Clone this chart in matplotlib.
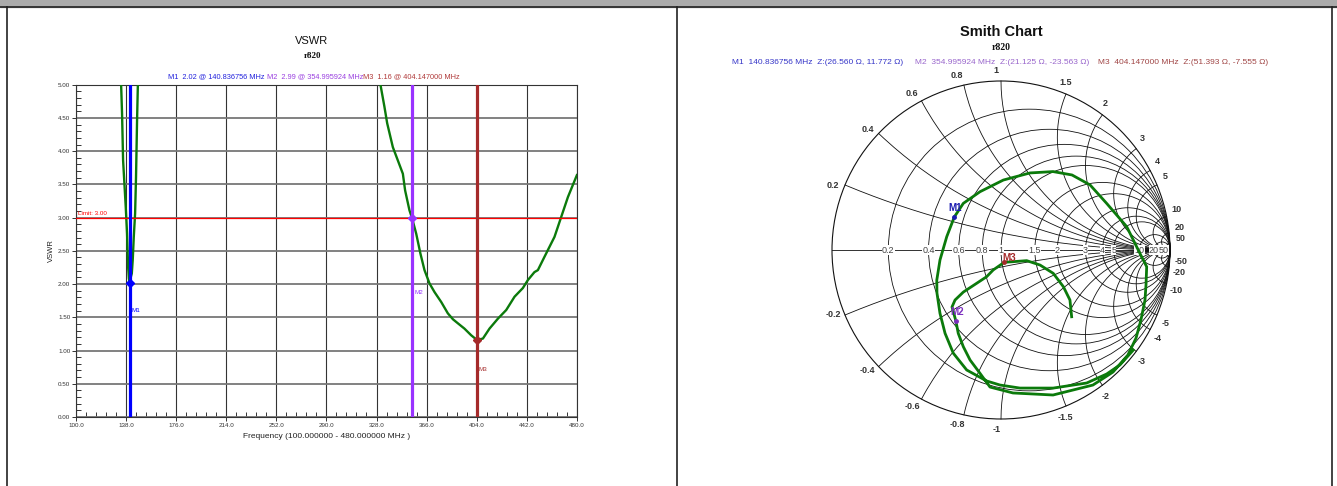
import matplotlib.pyplot as plt
import numpy as np
from matplotlib.patches import Rectangle, Circle
from matplotlib.lines import Line2D
from matplotlib.ticker import MultipleLocator, FixedLocator, FormatStrFormatter

plt.rcParams['font.family'] = ['Liberation Sans', 'DejaVu Sans']

W, H = 1337, 486

# VSWR sweep (values above 5.00 run off the top of the grid)
freq_mhz = [100.0, 110.0, 120.0, 127.0, 131.0, 134.3, 135.0, 135.8, 136.8, 137.8,
            138.8, 139.6, 140.2, 140.84, 141.3, 142.4, 143.1, 143.9, 144.9, 145.6,
            146.4, 147.0, 150.0, 170.0, 200.0, 240.0, 280.0, 310.0, 322.0, 331.0,
            334.0, 336.1, 340.4, 344.2, 348.0, 349.7, 353.0, 355.0, 358.1, 361.3,
            364.4, 368.2, 372.0, 377.1, 382.1, 386.0, 389.7, 394.7, 399.8, 404.15,
            408.7, 413.7, 420.1, 426.4, 432.7, 439.0, 442.8, 447.8, 450.4, 455.4,
            463.0, 468.1, 473.2, 480.0]
vswr = [60.0, 30.0, 14.0, 8.0, 5.8, 5.00, 4.57, 3.86, 3.51, 3.16,
        2.76, 2.26, 2.08, 2.02, 2.08, 2.16, 2.36, 2.71, 3.06, 3.61,
        4.47, 5.00, 7.5, 14.0, 24.0, 26.0, 20.0, 10.0, 6.8, 5.00,
        4.67, 4.42, 4.06, 3.86, 3.66, 3.41, 3.11, 2.99, 2.76, 2.46,
        2.21, 2.01, 1.88, 1.73, 1.56, 1.47, 1.41, 1.33, 1.23, 1.16,
        1.18, 1.33, 1.48, 1.61, 1.81, 1.94, 2.06, 2.18, 2.21, 2.41,
        2.71, 3.01, 3.31, 3.64]

vswr_limit = 3.0

freq_ticks = [100.0, 138.0, 176.0, 214.0, 252.0, 290.0, 328.0, 366.0, 404.0, 442.0, 480.0]

marker_names = ['M1', 'M2', 'M3']
marker_freq = [140.836756, 354.995924, 404.147000]
marker_vswr = [2.02, 2.99, 1.16]
marker_res = [26.560, 21.125, 51.393]
marker_react = [11.772, -23.563, -7.555]
marker_colors = ['#0000FF', '#9933FF', '#A52A2A']

# reflection coefficient trace
gamma_re = [0.783, 0.704, 0.625, 0.507, 0.309, 0.112, -0.006, -0.085, -0.203, -0.282,
            -0.331, -0.361, -0.379, -0.380, -0.361, -0.321, -0.276, -0.223, -0.124, 0.014,
            0.172, 0.308, 0.420, 0.527, 0.625, 0.744, 0.822, 0.862, 0.858, 0.852,
            0.828, 0.799, 0.751, 0.663, 0.544, 0.308, 0.071, -0.065, -0.124, -0.183,
            -0.223, -0.253, -0.267, -0.290, -0.272, -0.223, -0.144, -0.085, -0.046, 0.019,
            0.073, 0.152, 0.231, 0.309, 0.369, 0.408, 0.418]
gamma_im = [-0.592, -0.680, -0.734, -0.787, -0.817, -0.817, -0.799, -0.775, -0.710, -0.611,
            -0.493, -0.375, -0.254, -0.178, -0.059, 0.079, 0.196, 0.276, 0.345, 0.414,
            0.456, 0.464, 0.444, 0.385, 0.276, 0.138, -0.020, -0.099, -0.207, -0.296,
            -0.414, -0.521, -0.621, -0.722, -0.799, -0.858, -0.846, -0.811, -0.730, -0.651,
            -0.572, -0.493, -0.420, -0.337, -0.296, -0.249, -0.197, -0.158, -0.118, -0.073,
            -0.069, -0.063, -0.089, -0.138, -0.217, -0.296, -0.395]

smith_values = [0.2, 0.4, 0.6, 0.8, 1, 1.5, 2, 3, 4, 5, 10, 20, 50]


def fx(px):
    return px / W


def fy(py):
    return 1 - py / H


def colored_line(fig, xc, yc, parts, size):
    r = fig.canvas.get_renderer()
    texts = [fig.text(0, fy(yc), s, color=c, fontsize=size, va='center', ha='left')
             for s, c in parts]
    widths = [t.get_window_extent(r).width for t in texts]
    x0 = xc - sum(widths) / 2
    for t, w in zip(texts, widths):
        t.set_x(fx(x0))
        x0 += w


fig = plt.figure(figsize=(W / 100, H / 100), dpi=100)

# window frame
fig.patches.append(Rectangle((0, fy(7)), 1, 7 / H, transform=fig.transFigure,
                             color='#ABABAB', zorder=0))
for seg in [((0, W), (7.5, 7.5)), ((6.5, 6.5), (7.5, H)), ((676.5, 676.5), (7.5, H)),
            ((1332, 1332), (7.5, H))]:
    fig.add_artist(Line2D([fx(v) for v in seg[0]], [fy(v) for v in seg[1]],
                          color='#222222', lw=1.2, transform=fig.transFigure))

# ---------------- VSWR panel ----------------
ax = fig.add_axes([fx(75.9), fy(417), 501 / W, 332.3 / H])
ax.set_xlim(100, 480)
ax.set_ylim(0, 5)
ax.xaxis.set_major_locator(FixedLocator(freq_ticks))
ax.xaxis.set_minor_locator(FixedLocator(np.arange(100, 480.1, 7.6)))
ax.yaxis.set_major_locator(MultipleLocator(0.5))
ax.yaxis.set_minor_locator(MultipleLocator(0.1))
ax.xaxis.set_major_formatter(FormatStrFormatter('%.1f'))
ax.yaxis.set_major_formatter(FormatStrFormatter('%.2f'))
ax.tick_params(which='major', direction='out', length=3, width=0.7, labelsize=4.5,
               pad=1, colors='#333333')
ax.tick_params(which='minor', direction='in', length=3.5, width=0.7, colors='#333333')
ax.xaxis.grid(True, which='major', color='#333333', lw=0.8)
ax.yaxis.grid(True, which='major', color='#777777', lw=1.3)
for s in ax.spines.values():
    s.set_color('#333333')
    s.set_linewidth(0.8)

ax.plot(freq_mhz, vswr, color='#0B7A0B', lw=1.7, zorder=3)
ax.axhline(vswr_limit, color='#FF0000', lw=0.9, zorder=3)
ax.text(101.5, vswr_limit + 0.03, 'Limit: 3.00', color='#FF0000', fontsize=4.5,
        va='bottom', ha='left')

label_y = [1.60, 1.88, 0.72]
for name, f, v, c, ly in zip(marker_names, marker_freq, marker_vswr, marker_colors, label_y):
    ax.axvline(f, color=c, lw=2.3, zorder=4)
    ax.plot(f, v, marker='D', ms=4, color=c, zorder=5)
    ax.text(f + 1.5, ly, name, color=c, fontsize=4.5, va='center', ha='left', zorder=5)

ax.set_xlabel('Frequency (100.000000 - 480.000000 MHz )', fontsize=6, labelpad=4,
              color='#222222')
ax.set_ylabel('VSWR', fontsize=5.5, labelpad=2, color='#222222')

fig.text(fx(312), fy(41), 'VSWR', fontsize=8, ha='center', va='center', color='#111111')
fig.text(fx(313), fy(56), 'r820', fontsize=6.5, ha='center', va='center',
         family=['Liberation Serif', 'DejaVu Serif'], weight='bold', color='#111111')
colored_line(fig, 314, 76.5, [
    ('M1  %.2f @ %.6f MHz ' % (marker_vswr[0], marker_freq[0]), '#2222DD'),
    ('M2  %.2f @ %.6f MHz' % (marker_vswr[1], marker_freq[1]), '#9A40E0'),
    ('M3  %.2f @ %.6f MHz' % (marker_vswr[2], marker_freq[2]), '#B03A3A')], 5.3)

# ---------------- Smith chart panel ----------------
R = 169.0
cx, cy = 1001.0, 250.0
span = 1.25
sa = fig.add_axes([fx(cx - span * R), fy(cy + span * R), 2 * span * R / W, 2 * span * R / H])
sa.set_xlim(-span, span)
sa.set_ylim(-span, span)
sa.set_aspect('equal')
sa.axis('off')

grid_kw = dict(color='#111111', lw=0.6)
sa.add_patch(Circle((0, 0), 1, fill=False, ec='#111111', lw=0.8))
sa.plot([-1, 1], [0, 0], **grid_kw)
for r in smith_values:
    sa.add_patch(Circle((r / (1 + r), 0), 1 / (1 + r), fill=False, ec='#111111', lw=0.6))
r_sweep = np.concatenate([np.linspace(0, 2, 80), np.geomspace(2, 1e5, 200)])
for x in smith_values:
    for sgn in (1, -1):
        z = r_sweep + 1j * sgn * x
        g = (z - 1) / (z + 1)
        sa.plot(g.real, g.imag, **grid_kw)

# labels on the real axis
for r in smith_values:
    sa.text((r - 1) / (r + 1), 0, '%g' % r, fontsize=6.5, ha='center', va='center',
            color='#444444', bbox=dict(fc='white', ec='none', pad=0.2))
sa.plot(0.985, 0, marker='>', ms=4, color='#111111')

# reactance labels round the rim
for x in smith_values:
    for sgn in (1, -1):
        g = (1j * sgn * x - 1) / (1j * sgn * x + 1)
        ang = np.angle(g) + sgn * np.deg2rad(1.5)
        sa.text(1.065 * np.cos(ang), 1.065 * np.sin(ang), '%g' % (sgn * x), fontsize=6.5,
                ha='center', va='center', weight='bold', color='#333333')

sa.plot(gamma_re, gamma_im, color='#0B7A0B', lw=2.0, zorder=4)

smith_colors = ['#1A1AB0', '#7B2FBE', '#A52A2A']
label_dx = [0.005, 0.005, 0.03]
label_dy = [0.05, 0.05, 0.028]
for name, rr, xx, c, dx, dy in zip(marker_names, marker_res, marker_react, smith_colors,
                                   label_dx, label_dy):
    z = complex(rr, xx) / 50.0
    g = (z - 1) / (z + 1)
    sa.plot(g.real, g.imag, 'o', ms=2.5, color=c, zorder=5)
    sa.text(g.real + dx, g.imag + dy, name, fontsize=7, weight='bold', color=c,
            ha='center', va='center', zorder=6)

fig.text(fx(1001), fy(32), 'Smith Chart', fontsize=10.5, weight='bold', ha='center',
         va='center', color='#111111')
fig.text(fx(1001), fy(47), 'r820', fontsize=7, ha='center', va='center',
         family=['Liberation Serif', 'DejaVu Serif'], weight='bold', color='#111111')
colored_line(fig, 1000, 62.5, [
    ('M1  %.6f MHz  Z:(%.3f \u03a9, %.3f \u03a9)     ' % (marker_freq[0], marker_res[0], marker_react[0]), '#3535C8'),
    ('M2  %.6f MHz  Z:(%.3f \u03a9, %.3f \u03a9)    ' % (marker_freq[1], marker_res[1], marker_react[1]), '#9966CC'),
    ('M3  %.6f MHz  Z:(%.3f \u03a9, %.3f \u03a9)' % (marker_freq[2], marker_res[2], marker_react[2]), '#A04545')], 6)

fig.savefig('out.png', dpi=100)
